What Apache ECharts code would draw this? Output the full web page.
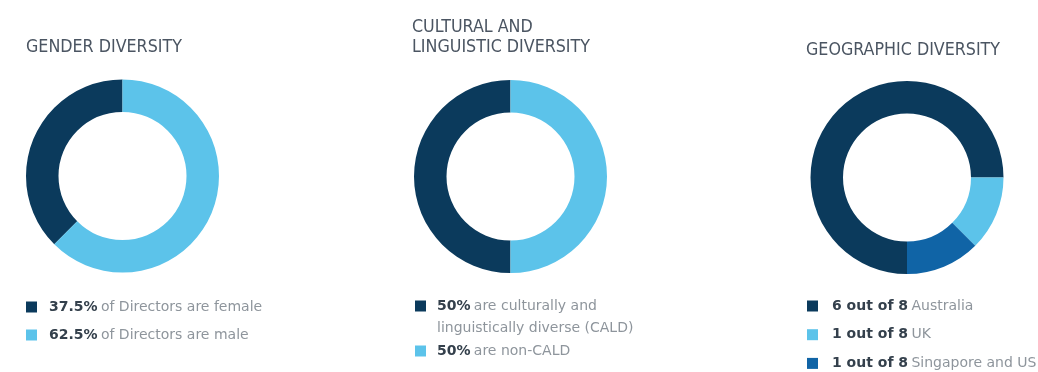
<!DOCTYPE html>
<html>
<head>
<meta charset="utf-8">
<script src="https://cdn.jsdelivr.net/npm/echarts@6/dist/echarts.min.js"></script>
<style>
  html, body { margin: 0; padding: 0; background: #ffffff; }
  #chart { width: 1038px; height: 372px; }
</style>
</head>
<body>
<div id="chart"></div>
<script>
// ---- Data ----
const titles = ['GENDER DIVERSITY', 'CULTURAL AND\nLINGUISTIC DIVERSITY', 'GEOGRAPHIC DIVERSITY'];

const genderBold = ['37.5%', '62.5%'];
const genderText = ['of Directors are female', 'of Directors are male'];
const genderValues = [37.5, 62.5];

const caldBold = ['50%', '50%'];
const caldText = ['are culturally and\nlinguistically diverse (CALD)', 'are non-CALD'];
const caldValues = [50, 50];

const geoBold = ['6 out of 8', '1 out of 8', '1 out of 8'];
const geoText = ['Australia', 'UK', 'Singapore and US'];
const geoValues = [6, 1, 1];

// ---- Styling ----
const DARK = '#0b3a5c';
const LIGHT = '#5cc3ea';
const MID = '#1064a6';
const genderColors = [DARK, LIGHT];
const caldColors = [DARK, LIGHT];
const geoColors = [DARK, LIGHT, MID];

const TITLE_FONT = '"DejaVu Sans Condensed", "DejaVu Sans", sans-serif';
const LEGEND_FONT = '"DejaVu Sans", sans-serif';

const labelMap = {};
function buildItems(bold, text, values, colors) {
  return values.map(function (v, i) {
    const name = bold[i] + ' ' + text[i];
    labelMap[name] = { bold: bold[i], text: text[i] };
    return { name: name, value: v, itemStyle: { color: colors[i] } };
  });
}
const genderData = buildItems(genderBold, genderText, genderValues, genderColors);
const caldData = buildItems(caldBold, caldText, caldValues, caldColors);
const geoData = buildItems(geoBold, geoText, geoValues, geoColors);

function fmt(name) {
  const l = labelMap[name];
  const lines = l.text.split('\n');
  let s = '{b|' + l.bold + '} {n|' + lines[0] + '}';
  for (let i = 1; i < lines.length; i++) s += '\n{n|' + lines[i] + '}';
  return s;
}

function richFor(lh) {
  return {
    b: { fontFamily: LEGEND_FONT, fontSize: 14, fontWeight: 'bold', color: '#34404c', lineHeight: lh },
    n: { fontFamily: LEGEND_FONT, fontSize: 14, color: '#8e959c', lineHeight: lh }
  };
}

function legend(names, left, top, gap, padLeft, extra) {
  return Object.assign({
    data: names,
    orient: 'vertical',
    left: left,
    top: top,
    height: 90,
    padding: 0,
    itemGap: gap,
    itemWidth: 11,
    itemHeight: 11,
    icon: 'rect',
    selectedMode: false,
    formatter: fmt,
    textStyle: { padding: [0, 0, 0, padLeft], lineHeight: 11, rich: richFor(11) }
  }, extra || {});
}

function pie(center, data, startAngle, clockwise) {
  return {
    type: 'pie',
    center: center,
    radius: [64, 96.5],
    startAngle: startAngle,
    clockwise: clockwise,
    avoidLabelOverlap: false,
    label: { show: false },
    labelLine: { show: false },
    emphasis: { disabled: true },
    silent: true,
    data: data
  };
}

const titleStyle = { fontFamily: TITLE_FONT, fontSize: 17.7, fontWeight: 'normal', color: '#4b5562', lineHeight: 20 };

const option = {
  backgroundColor: '#ffffff',
  animation: false,
  title: [
    { text: titles[0], left: 26, top: 37, padding: 0, textStyle: titleStyle },
    { text: titles[1], left: 412, top: 17.5, padding: 0, textStyle: titleStyle },
    { text: titles[2], left: 806, top: 40.5, padding: 0, textStyle: titleStyle }
  ],
  legend: [
    legend(genderData.map(d => d.name), 26, 300, 14, 7),
    legend([caldData[0].name], 415, 299, 0, 6, {
      textStyle: { padding: [22, 0, 0, 6], rich: richFor(22) }
    }),
    legend([caldData[1].name], 415, 344, 0, 6),
    legend(geoData.map(d => d.name), 807, 299, 14.7, 9)
  ],
  series: [
    pie([122.5, 176], genderData, 90, false),
    pie([510.5, 176.5], caldData, 90, false),
    pie([907, 177.5], geoData, -90, true)
  ]
};

const chart = echarts.init(document.getElementById('chart'), null, { renderer: 'canvas' });
chart.setOption(option);
</script>
</body>
</html>
